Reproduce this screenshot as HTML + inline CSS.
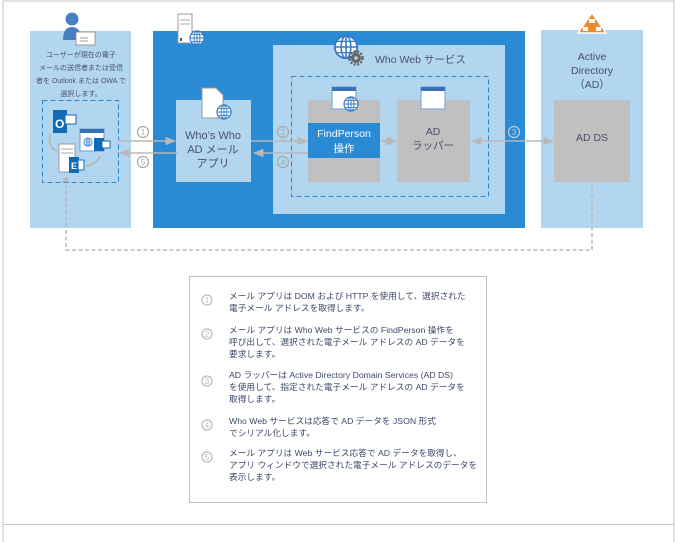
<!DOCTYPE html>
<html><head><meta charset="utf-8"><style>
html,body{margin:0;padding:0;background:#fff;}
svg{display:block;}
text{font-family:"Liberation Sans","Noto Sans CJK JP",sans-serif;}
</style></head><body>
<svg width="677" height="542" viewBox="0 0 677 542" xmlns="http://www.w3.org/2000/svg">
<defs>
<marker id="ah" viewBox="0 0 10 10" refX="9" refY="5" markerWidth="7" markerHeight="7" orient="auto-start-reverse"><path d="M0,1 L10,5 L0,9 z" fill="#b8b8b8"/></marker>
<g id="globe"><circle r="7" fill="#fff" stroke="#3a7cc4" stroke-width="1.2"/><ellipse rx="3" ry="7" fill="none" stroke="#3a7cc4" stroke-width="1"/><line x1="-7" y1="0" x2="7" y2="0" stroke="#3a7cc4"/><line x1="0" y1="-7" x2="0" y2="7" stroke="#3a7cc4"/><line x1="-6" y1="-3.5" x2="6" y2="-3.5" stroke="#3a7cc4" stroke-width=".8"/><line x1="-6" y1="3.5" x2="6" y2="3.5" stroke="#3a7cc4" stroke-width=".8"/></g>
</defs>
<polyline points="3,542 3,1 674,1 674,542" fill="none" stroke="#c4c4c4" stroke-width="1"/>
<line x1="3" y1="524.5" x2="674" y2="524.5" stroke="#c4c4c4"/>

<rect x="30" y="31" width="101" height="197" fill="#b2d6f0"/>
<rect x="42.5" y="100.5" width="76" height="82" fill="none" stroke="#2b86cf" stroke-dasharray="5,3"/>
<text font-size="7" fill="#4a5068" text-anchor="middle"><tspan x="81" y="57">ユーザーが現在の電子</tspan><tspan x="81" y="70">メールの送信者または受信</tspan><tspan x="81" y="83">者を Outlook または OWA で</tspan><tspan x="81" y="96">選択します。</tspan></text>
<circle cx="72" cy="19" r="6.5" fill="#4a7fbf"/>
<path d="M63,40 Q63,27 72,27 Q81,27 81,40 z" fill="#4a7fbf"/>
<rect x="76" y="32" width="19" height="13" fill="#fff" stroke="#888" stroke-width=".8"/>
<line x1="80" y1="38" x2="88" y2="38" stroke="#999"/><line x1="80" y1="41" x2="88" y2="41" stroke="#999"/>
<rect x="53" y="110" width="14" height="23" fill="#0f6ab8"/><text x="55" y="128" font-size="12" font-weight="bold" fill="#fff">O</text>
<rect x="65" y="115" width="11" height="9" fill="#fff" stroke="#0f6ab8"/>
<rect x="80" y="129" width="24" height="22" fill="#fff" stroke="#6a9fd6"/><rect x="80" y="129" width="24" height="4" fill="#3a6fb0"/>
<use href="#globe" transform="translate(88,142) scale(.6)"/>
<rect x="94" y="138" width="10" height="13" fill="#0f6ab8"/><rect x="102" y="141" width="8" height="7" fill="#fff" stroke="#0f6ab8"/>
<rect x="59" y="144" width="16" height="28" fill="#fff" stroke="#999"/><line x1="61" y1="149" x2="73" y2="149" stroke="#aaa"/><line x1="61" y1="153" x2="73" y2="153" stroke="#aaa"/>
<rect x="69" y="157" width="10" height="16" fill="#0f6ab8"/><text x="71" y="169" font-size="9" font-weight="bold" fill="#fff">E</text><rect x="78" y="160" width="6" height="10" fill="#fff" stroke="#0f6ab8"/>
<path d="M50,134 Q48,148 57,151" fill="none" stroke="#b8b8b8" stroke-width="2"/>
<path d="M86,166 Q96,165 100,156" fill="none" stroke="#b8b8b8" stroke-width="2"/>

<rect x="153" y="31" width="372" height="197" fill="#2a8ad4"/>
<rect x="176" y="100" width="75" height="82" fill="#b2d6f0"/>
<text font-size="11" fill="#4a5068" text-anchor="middle"><tspan x="213" y="139">Who’s Who</tspan><tspan x="213" y="153">AD メール</tspan><tspan x="213" y="167">アプリ</tspan></text>
<rect x="178" y="14" width="14" height="29" fill="#fff" stroke="#999"/><line x1="180" y1="20" x2="190" y2="20" stroke="#aaa"/><line x1="180" y1="24" x2="190" y2="24" stroke="#aaa"/><rect x="180" y="38" width="2" height="3" fill="#555"/>
<use href="#globe" transform="translate(197,38)"/>
<path d="M202,88 L216,88 L223,95 L223,118 L202,118 z" fill="#fff" stroke="#999"/>
<use href="#globe" transform="translate(224,112)"/>

<rect x="273" y="45" width="232" height="169" fill="#b2d6f0"/>
<use href="#globe" transform="translate(346,47) scale(1.6)"/>
<circle cx="356" cy="58" r="5" fill="#666"/><circle cx="356" cy="58" r="6.5" fill="none" stroke="#666" stroke-width="2.5" stroke-dasharray="2,1.5"/><circle cx="356" cy="58" r="1.8" fill="#b2d6f0"/>
<text x="375" y="63" font-size="10.5" fill="#4a5068">Who Web サービス</text>
<rect x="291.5" y="76.5" width="197" height="120" fill="none" stroke="#2b86cf" stroke-dasharray="5,3"/>
<rect x="308" y="100" width="72" height="82" fill="#c0c0c0"/>
<rect x="308" y="123" width="72" height="35" fill="#2a8ad4"/>
<text font-size="10.5" fill="#fff" text-anchor="middle"><tspan x="344" y="137">FindPerson</tspan><tspan x="344" y="152">操作</tspan></text>
<rect x="332" y="87" width="24" height="22" fill="#fff" stroke="#6a9fd6"/><rect x="332" y="87" width="24" height="4" fill="#3a6fb0"/>
<use href="#globe" transform="translate(351,104)"/>
<rect x="397" y="100" width="73" height="82" fill="#c0c0c0"/>
<rect x="421" y="87" width="24" height="22" fill="#fff" stroke="#6a9fd6"/><rect x="421" y="87" width="24" height="4" fill="#3a6fb0"/>
<text font-size="10.5" fill="#4a5068" text-anchor="middle"><tspan x="433" y="135">AD</tspan><tspan x="433" y="149">ラッパー</tspan></text>

<rect x="541" y="30" width="102" height="198" fill="#b2d6f0"/>
<path d="M592,13 L606,33 L578,33 z" fill="#e98a2e" stroke="#fff" stroke-width="1.5"/>
<rect x="589" y="19" width="6" height="4" fill="#fff"/><rect x="583" y="27" width="5" height="4" fill="#fff"/><rect x="596" y="27" width="5" height="4" fill="#fff"/>
<text font-size="10.5" fill="#4a5068" text-anchor="middle"><tspan x="592" y="60">Active</tspan><tspan x="592" y="74">Directory</tspan><tspan x="592" y="88">（AD）</tspan></text>
<rect x="554" y="100" width="76" height="82" fill="#c0c0c0"/>
<text x="592" y="141" font-size="10.5" fill="#4a5068" text-anchor="middle">AD DS</text>

<g stroke="#b8b8b8" stroke-width="1.5" fill="none">
<line x1="118" y1="141" x2="175" y2="141" marker-end="url(#ah)"/>
<line x1="178" y1="153" x2="120" y2="153" marker-end="url(#ah)"/>
<line x1="251" y1="141" x2="307" y2="141" marker-end="url(#ah)"/>
<line x1="308" y1="153" x2="254" y2="153" marker-end="url(#ah)"/>
<line x1="382" y1="141" x2="396" y2="141" marker-start="url(#ah)" marker-end="url(#ah)"/>
<line x1="472" y1="141" x2="553" y2="141" marker-start="url(#ah)" marker-end="url(#ah)"/>
<polyline points="66,178 66,250 592,250 592,183" stroke-dasharray="4,2.5"/>
</g>
<path d="M62,182 L66,176 L70,182 z" fill="#b8b8b8"/>
<g font-size="8" fill="#a8a8a8" text-anchor="middle">
<circle cx="143" cy="132" r="5.5" fill="none" stroke="#a8a8a8" stroke-width="1.2"/><text x="143" y="135">1</text>
<circle cx="143" cy="162" r="5.5" fill="none" stroke="#a8a8a8" stroke-width="1.2"/><text x="143" y="165">5</text>
<circle cx="283" cy="132" r="5.5" fill="none" stroke="#a8a8a8" stroke-width="1.2"/><text x="283" y="135">2</text>
<circle cx="283" cy="162" r="5.5" fill="none" stroke="#a8a8a8" stroke-width="1.2"/><text x="283" y="165">4</text>
<circle cx="514" cy="132" r="5.5" fill="none" stroke="#ccc" stroke-width="1.2"/><text x="514" y="135" fill="#ccc">3</text>
</g>

<rect x="189.5" y="276.5" width="297" height="226" fill="#fff" stroke="#c0c0c0"/>
<g font-size="8" fill="#bbb" text-anchor="middle">
<circle cx="207" cy="300" r="5" fill="none" stroke="#bbb" stroke-width="1.2"/><text x="207" y="303">1</text>
<circle cx="207" cy="334" r="5" fill="none" stroke="#bbb" stroke-width="1.2"/><text x="207" y="337">2</text>
<circle cx="207" cy="381" r="5" fill="none" stroke="#bbb" stroke-width="1.2"/><text x="207" y="384">3</text>
<circle cx="207" cy="425" r="5" fill="none" stroke="#bbb" stroke-width="1.2"/><text x="207" y="428">4</text>
<circle cx="207" cy="457" r="5" fill="none" stroke="#bbb" stroke-width="1.2"/><text x="207" y="460">5</text>
</g>
<g font-size="8.7" fill="#3c4a6a">
<text><tspan x="229" y="299">メール アプリは DOM および HTTP を使用して、選択された</tspan><tspan x="229" y="311">電子メール アドレスを取得します。</tspan></text>
<text><tspan x="229" y="333">メール アプリは Who Web サービスの FindPerson 操作を</tspan><tspan x="229" y="345">呼び出して、選択された電子メール アドレスの AD データを</tspan><tspan x="229" y="357">要求します。</tspan></text>
<text><tspan x="229" y="378">AD ラッパーは Active Directory Domain Services (AD DS)</tspan><tspan x="229" y="390">を使用して、指定された電子メール アドレスの AD データを</tspan><tspan x="229" y="402">取得します。</tspan></text>
<text><tspan x="229" y="424">Who Web サービスは応答で AD データを JSON 形式</tspan><tspan x="229" y="436">でシリアル化します。</tspan></text>
<text><tspan x="229" y="456">メール アプリは Web サービス応答で AD データを取得し、</tspan><tspan x="229" y="468">アプリ ウィンドウで選択された電子メール アドレスのデータを</tspan><tspan x="229" y="480">表示します。</tspan></text>
</g>
</svg>
</body></html>
